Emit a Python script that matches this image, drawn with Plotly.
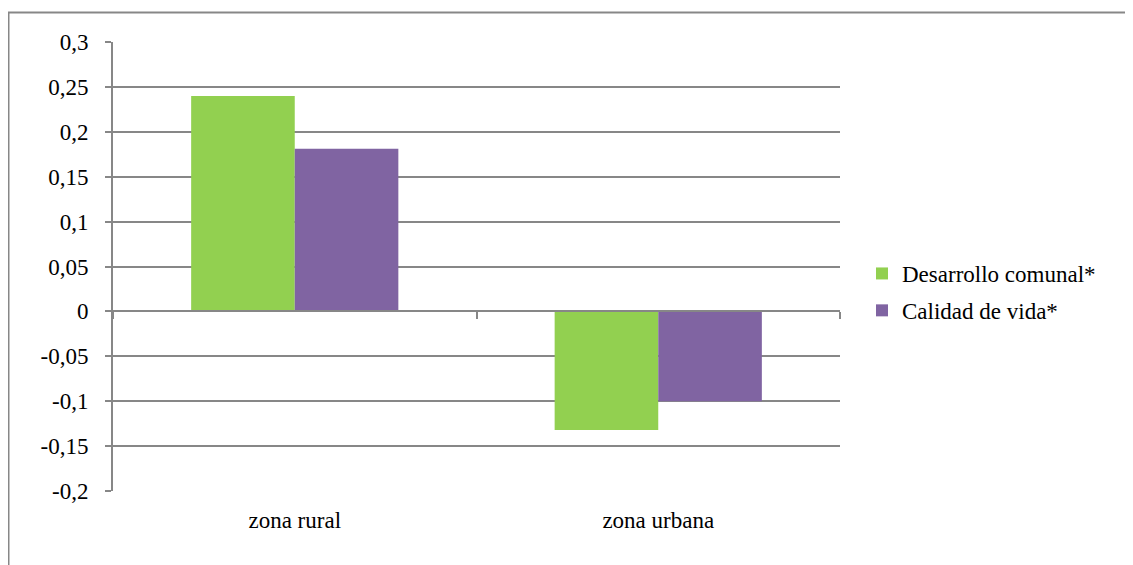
import plotly.graph_objects as go

# datos
zonas = ["zona rural", "zona urbana"]
desarrollo_comunal = [0.24, -0.132]
calidad_vida = [0.181, -0.1]
y_ticks = [-0.2, -0.15, -0.1, -0.05, 0, 0.05, 0.1, 0.15, 0.2, 0.25, 0.3]
y_labels = ["-0,2", "-0,15", "-0,1", "-0,05", "0", "0,05", "0,1", "0,15", "0,2", "0,25", "0,3"]

GRIS = "#878787"
FUENTE = "Liberation Serif, Times New Roman, serif"

fig = go.Figure()
fig.add_trace(go.Bar(x=zonas, y=desarrollo_comunal, name="Desarrollo comunal*",
                     legendgroup="a", marker=dict(color="#92D050", line=dict(width=0))))
fig.add_trace(go.Bar(x=zonas, y=calidad_vida, name="Calidad de vida*",
                     legendgroup="b", marker=dict(color="#8064A2", line=dict(width=0))))
# traza vacia para el eje en cero (solo lleva las marcas)
fig.add_trace(go.Scatter(x=zonas, y=[None, None], xaxis="x2", showlegend=False,
                         hoverinfo="skip", mode="markers"))

# la pagina deja 8px de margen alrededor de la figura
OFF = 8
W, H = 1133 - OFF, 565 - OFF
ml, mr, mt, mb = 113 - OFF, 293, 42 - OFF, 74
pw, ph = W - ml - mr, H - mt - mb
bx = (8.5 - 113) / pw
by = 1 + (42 - 12.5) / ph

fig.update_layout(
    width=W, height=H,
    margin=dict(l=ml, r=mr, t=mt, b=mb),
    paper_bgcolor="white", plot_bgcolor="white",
    barmode="group", bargap=0.43, bargroupgap=0,
    font=dict(family=FUENTE, size=23, color="black"),
    xaxis=dict(type="category", categoryarray=zonas, range=[-0.5, 1.5],
               showline=False, showgrid=False, zeroline=False, ticks="",
               ticklabelstandoff=13),
    xaxis2=dict(type="category", categoryarray=zonas, matches="x", overlaying="x",
                anchor="free", position=0.4, showline=True, linecolor=GRIS, linewidth=2,
                ticks="outside", tickson="boundaries", ticklen=7, tickwidth=2,
                tickcolor=GRIS, showticklabels=False, showgrid=False, zeroline=False),
    yaxis=dict(range=[-0.2, 0.3], tickvals=y_ticks, ticktext=y_labels,
               showgrid=True, gridcolor=GRIS, gridwidth=1.5, zeroline=False,
               showline=True, linecolor=GRIS, linewidth=2,
               ticks="outside", ticklen=6, tickwidth=2, tickcolor=GRIS,
               ticklabelstandoff=12),
    legend=dict(x=(862 - 113) / pw, y=1 - (292 - 42) / ph, xanchor="left", yanchor="middle",
                font=dict(family=FUENTE, size=23), itemwidth=30,
                traceorder="grouped", tracegroupgap=4, bgcolor="rgba(0,0,0,0)"),
    shapes=[dict(type="path", xref="paper", yref="paper",
                 path=f"M {bx},-0.3 L {bx},{by} L 1.5,{by}",
                 line=dict(color=GRIS, width=2))],
)

fig.write_html("out.html")
